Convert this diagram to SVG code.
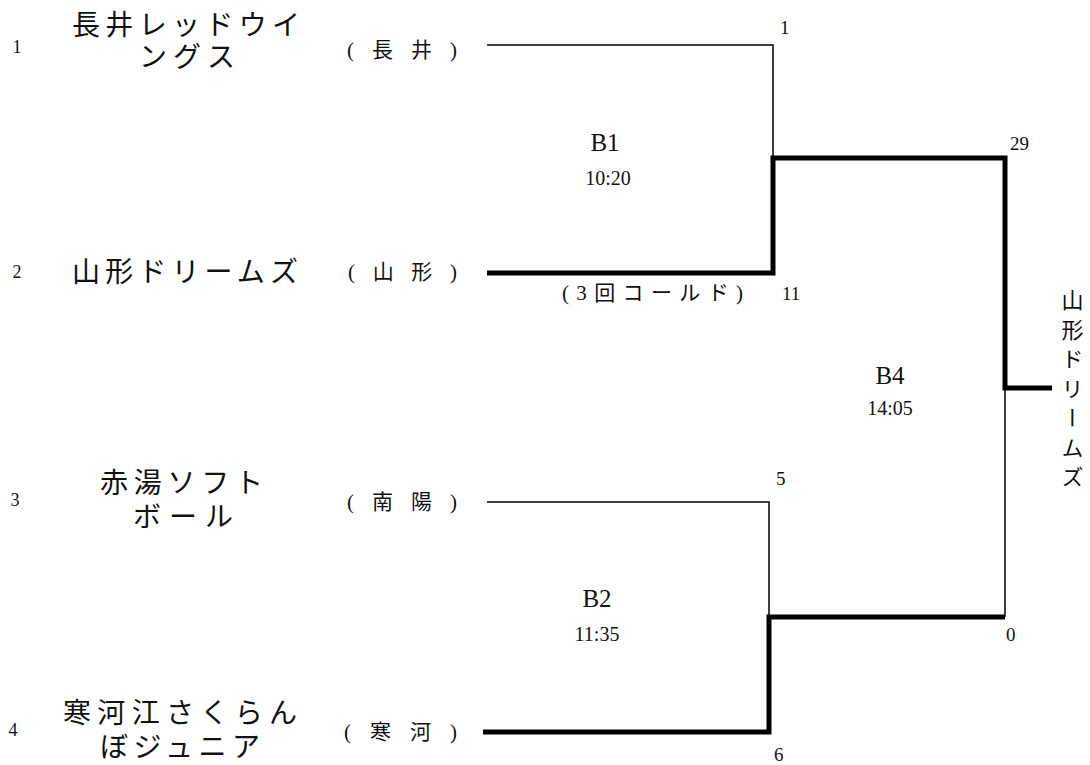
<svg xmlns="http://www.w3.org/2000/svg" width="1090" height="765" viewBox="0 0 1090 765">
<style>
.bg{fill:#fff}
.thin{stroke:#000;stroke-width:1.5;fill:none}
.thick{stroke:#000;stroke-width:5;fill:none;stroke-linejoin:miter}
text{font-family:"Liberation Serif","Noto Sans CJK JP",serif;fill:#111}
.team{font-size:28px;dominant-baseline:central}
.place{font-size:21px;dominant-baseline:central}
.num{font-size:19px;dominant-baseline:central}
.seed{font-size:18px;dominant-baseline:central;text-anchor:middle}
.mlabel{font-size:25px;dominant-baseline:central;text-anchor:middle}
.mtime{font-size:20px;dominant-baseline:central;text-anchor:middle}
.note{font-size:21px;dominant-baseline:central}
.vert{font-size:22px;writing-mode:vertical-rl;letter-spacing:7.5px}
</style>
<rect class="bg" x="0" y="0" width="1090" height="765"/>

<g id="connectors">
  <path class="thin" d="M487,45 H773 V158"/>
  <path class="thick" d="M487,273 H773 V158 H1005 V388 H1052"/>
  <path class="thin" d="M487,502 H769 V617"/>
  <path class="thick" d="M483,732 H769 V617 H1005"/>
  <path class="thin" d="M1005,388 V617"/>
</g>

<g id="team1">
  <text class="seed" x="17" y="47">1</text>
  <text class="team" x="72" y="25" textLength="228" lengthAdjust="spacing">長井レッドウイ</text>
  <text class="team" x="139" y="57" textLength="96" lengthAdjust="spacing">ングス</text>
  <text class="place" x="347" y="50" textLength="110" lengthAdjust="spacing">(長井)</text>
</g>

<g id="team2">
  <text class="seed" x="17" y="272">2</text>
  <text class="team" x="72" y="272" textLength="226" lengthAdjust="spacing">山形ドリームズ</text>
  <text class="place" x="348" y="272" textLength="109" lengthAdjust="spacing">(山形)</text>
</g>

<g id="team3">
  <text class="seed" x="15" y="500">3</text>
  <text class="team" x="100" y="483" textLength="163" lengthAdjust="spacing">赤湯ソフト</text>
  <text class="team" x="133" y="517" textLength="100" lengthAdjust="spacing">ボール</text>
  <text class="place" x="347" y="502" textLength="110" lengthAdjust="spacing">(南陽)</text>
</g>

<g id="team4">
  <text class="seed" x="13" y="730">4</text>
  <text class="team" x="63" y="713" textLength="234" lengthAdjust="spacing">寒河江さくらん</text>
  <text class="team" x="100" y="747" textLength="160" lengthAdjust="spacing">ぼジュニア</text>
  <text class="place" x="344" y="732" textLength="113" lengthAdjust="spacing">(寒河)</text>
</g>

<g id="match-B1">
  <text class="mlabel" x="605" y="142">B1</text>
  <text class="mtime" x="608" y="178">10:20</text>
  <text class="note" x="562" y="293" textLength="181" lengthAdjust="spacing">(3回コールド)</text>
  <text class="num" x="780" y="27">1</text>
  <text class="num" x="782" y="293">11</text>
</g>

<g id="match-B2">
  <text class="mlabel" x="597" y="598">B2</text>
  <text class="mtime" x="597" y="634">11:35</text>
  <text class="num" x="776" y="478">5</text>
  <text class="num" x="774" y="754">6</text>
</g>

<g id="match-B4">
  <text class="mlabel" x="890" y="375">B4</text>
  <text class="mtime" x="890" y="408">14:05</text>
  <text class="num" x="1010" y="143">29</text>
  <text class="num" x="1006" y="634">0</text>
</g>

<g id="winner">
  <text class="vert" x="1070" y="289">山形ドリームズ</text>
</g>
</svg>
